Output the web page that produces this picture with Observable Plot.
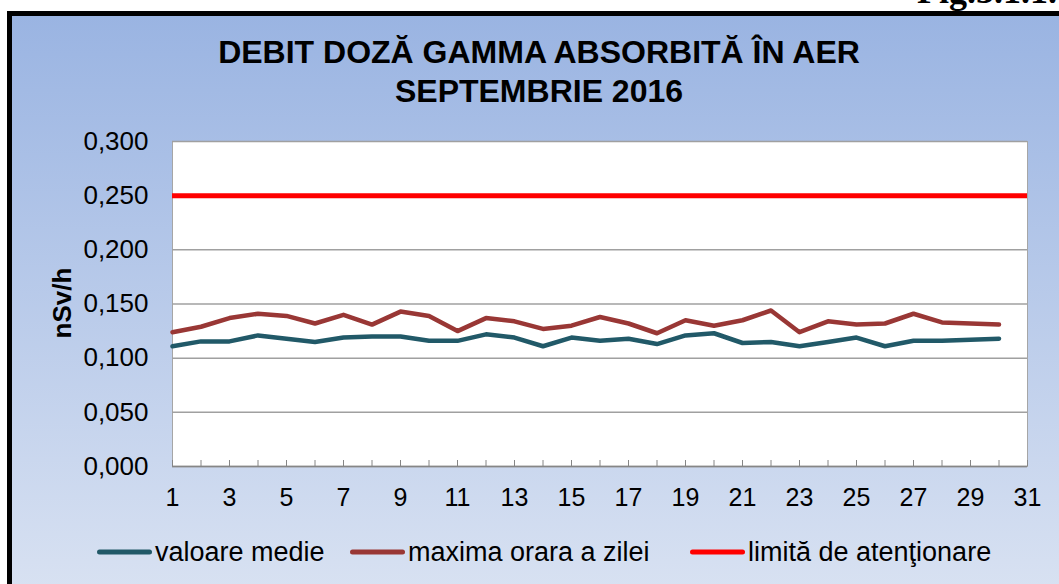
<!DOCTYPE html>
<html>
<head>
<meta charset="utf-8">
<script src="https://cdn.jsdelivr.net/npm/d3@7"></script>
<script src="https://cdn.jsdelivr.net/npm/@observablehq/plot@0.6"></script>
<style>
  html, body { margin: 0; padding: 0; background: #fff; }
  body { width: 1059px; height: 584px; overflow: hidden; position: relative; font-family: "Liberation Sans", Arial, sans-serif; }
  #fig { position: absolute; right: 2px; top: -26.7px; font: bold 36px/36px "Liberation Serif", "Times New Roman", serif; color: #000; white-space: nowrap; }
  #frame { position: absolute; left: 7px; top: 11px; width: 1100px; height: 620px; border-left: 5px solid #000; border-top: 5px solid #000; background: linear-gradient(#9ab4e2, #dde5f3); }
  #title { position: absolute; left: 0; width: 1078px; top: 32.8px; text-align: center; font-weight: bold; font-size: 32px; line-height: 39px; color: #000; }
  #chart { position: absolute; left: 0; top: 0; }
  #ylabel { position: absolute; left: 62px; top: 303px; transform: translate(-50%, -50%) rotate(-90deg); font-weight: bold; font-size: 26px; white-space: nowrap; color: #000; }
  .lg { position: absolute; top: 552px; transform: translateY(-50%); display: flex; align-items: center; font-size: 27px; color: #000; white-space: nowrap; }
  .sw { width: 55px; height: 5px; border-radius: 2.5px; margin-right: 3px; }
</style>
</head>
<body>
<div id="fig">Fig.3.1.1.</div>
<div id="frame"></div>
<div id="title"></div>
<div id="chart"></div>
<div id="ylabel"></div>
<div id="legend"></div>
<script>
const titleLines = ["DEBIT DOZĂ GAMMA ABSORBITĂ ÎN AER", "SEPTEMBRIE 2016"];
const yLabel = "nSv/h";
const days = [1,2,3,4,5,6,7,8,9,10,11,12,13,14,15,16,17,18,19,20,21,22,23,24,25,26,27,28,29,30];
const valoareMedie = [0.111,0.1155,0.1155,0.121,0.118,0.115,0.119,0.120,0.120,0.116,0.116,0.122,0.119,0.111,0.119,0.116,0.118,0.113,0.121,0.123,0.114,0.115,0.111,0.115,0.119,0.111,0.116,0.116,0.117,0.118];
const maximaOrara = [0.124,0.129,0.137,0.141,0.139,0.132,0.140,0.131,0.143,0.139,0.125,0.137,0.134,0.127,0.130,0.138,0.132,0.123,0.135,0.130,0.135,0.144,0.124,0.134,0.131,0.132,0.141,0.133,0.132,0.131];
const limitaAtentionare = 0.25;
const xTicks = [1,3,5,7,9,11,13,15,17,19,21,23,25,27,29,31];
const xMinorTicks = [1,2,3,4,5,6,7,8,9,10,11,12,13,14,15,16,17,18,19,20,21,22,23,24,25,26,27,28,29,30,31];
const yTicks = [0,0.05,0.1,0.15,0.2,0.25,0.3];
const seriesNames = ["valoare medie", "maxima orara a zilei", "limită de atenţionare"];
const seriesColors = ["#215968", "#993735", "#ff0000"];

document.getElementById("title").innerHTML = titleLines.join("<br>");
document.getElementById("ylabel").textContent = yLabel;

const medieData = days.map((d, i) => ({day: d, v: valoareMedie[i]}));
const maxData = days.map((d, i) => ({day: d, v: maximaOrara[i]}));
const fmt = v => d3.format(".3f")(v).replace(".", ",");

const plot = Plot.plot({
  width: 1059,
  height: 520,
  marginTop: 141,
  marginBottom: 54,
  marginLeft: 172,
  marginRight: 32,
  style: {background: "transparent", color: "#000", fontFamily: "Liberation Sans, Arial, sans-serif", fontSize: "26px"},
  x: {domain: [1, 31]},
  y: {domain: [0, 0.3]},
  marks: [
    Plot.frame({fill: "white", stroke: "#a6a6a6"}),
    Plot.gridY(yTicks, {stroke: "#a0a0a0", strokeOpacity: 1, strokeWidth: 1.5}),
    Plot.ruleY([0], {stroke: "#868686", strokeWidth: 1.5}),
    Plot.axisX(xMinorTicks, {tickSize: -6, tickFormat: () => "", stroke: "#868686", label: null}),
    Plot.axisX(xTicks, {tickSize: 0, tickPadding: 22, fontSize: 25, label: null}),
    Plot.axisY(yTicks, {tickSize: 0, tickPadding: 24, tickFormat: fmt, fontSize: 26, label: null}),
    Plot.ruleY([limitaAtentionare], {stroke: seriesColors[2], strokeWidth: 5}),
    Plot.line(maxData, {x: "day", y: "v", stroke: seriesColors[1], strokeWidth: 4.5, strokeLinejoin: "round"}),
    Plot.line(medieData, {x: "day", y: "v", stroke: seriesColors[0], strokeWidth: 4.5, strokeLinejoin: "round"})
  ]
});
document.getElementById("chart").appendChild(plot);

const legendLefts = [97, 350, 690];
const legend = document.getElementById("legend");
seriesNames.forEach((name, i) => {
  const item = document.createElement("div");
  item.className = "lg";
  item.style.left = legendLefts[i] + "px";
  const sw = document.createElement("div");
  sw.className = "sw";
  sw.style.background = seriesColors[i];
  const tx = document.createElement("span");
  tx.textContent = name;
  item.appendChild(sw);
  item.appendChild(tx);
  legend.appendChild(item);
});
</script>
</body>
</html>
